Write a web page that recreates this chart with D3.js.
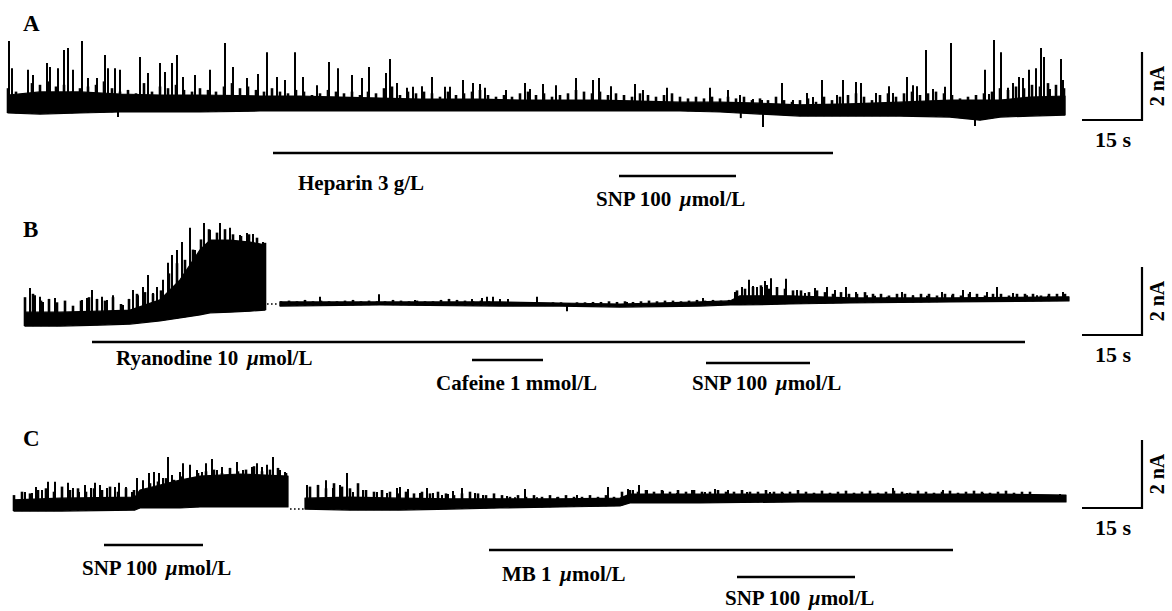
<!DOCTYPE html>
<html>
<head>
<meta charset="utf-8">
<script src="https://cdn.jsdelivr.net/npm/d3@7"></script>
<style>
  body { margin: 0; background: #fff; }
  svg text { font-family: "Liberation Serif", "Times New Roman", serif; font-weight: bold; fill: #000; }
</style>
</head>
<body>
<svg id="fig" width="1172" height="611"></svg>
<script>
// ── Data (time in s, current in nA) ────────────────────────────────────────
// dense noise band of each trace: [t, low, high]; null row = recording gap
const bandA = [
    [0, -0.03, 0.50], [8, -0.06, 0.59], [18, -0.03, 0.59], [28, 0, 0.53], [38, 0, 0.50],
    [48, 0, 0.50], [63, 0.03, 0.47], [73, 0.03, 0.47], [83, 0.03, 0.44], [93, 0.03, 0.41],
    [103, 0.03, 0.38], [118, 0.03, 0.38], [128, 0.03, 0.35], [138, 0.03, 0.35], [148, 0.03, 0.35],
    [158, 0.03, 0.32], [168, 0.03, 0.29], [178, 0, 0.29], [188, -0.06, 0.26], [198, -0.12, 0.21],
    [210.5, -0.12, 0.24], [223, -0.12, 0.29], [235.5, -0.15, 0.35], [243, -0.24, 0.35],
    [248, -0.15, 0.35], [255.5, -0.12, 0.44], [264.25, -0.09, 0.47],
];
// ragged top of the small openings, one reading every 2 s (null = gap)
const envA = [
    0.7, 0.6, 0.55, 0.85, 0.8, 0.9, 0.75, 0.8, 0.6, 0.7, 0.75, 0.8, 0.9, 0.7, 0.6, 0.65, 0.55, 0.85,
    0.6, 0.75, 0.7, 0.8, 0.65, 0.6, 0.7, 0.65, 0.6, 0.75, 0.85, 0.7, 0.75, 0.65, 0.6, 0.7, 0.6, 0.55,
    0.65, 0.6, 0.5, 0.55, 0.65, 0.6, 0.55, 0.6, 0.5, 0.6, 0.55, 0.7, 0.75, 0.5, 0.6, 0.55, 0.6, 0.55,
    0.45, 0.6, 0.5, 0.55, 0.6, 0.65, 0.5, 0.45, 0.5, 0.45, 0.55, 0.6, 0.5, 0.55, 0.45, 0.5, 0.55, 0.65,
    0.6, 0.55, 0.6, 0.5, 0.55, 0.5, 0.45, 0.55, 0.5, 0.45, 0.5, 0.55, 0.45, 0.4, 0.45, 0.4, 0.45, 0.4,
    0.45, 0.4, 0.45, 0.35, 0.4, 0.35, 0.45, 0.35, 0.3, 0.35, 0.4, 0.3, 0.45, 0.35, 0.45, 0.5, 0.55,
    0.45, 0.35, 0.5, 0.55, 0.45, 0.55, 0.6, 0.5, 0.55, 0.6, 0.55, 0.5, 0.4, 0.45, 0.5, 0.55, 0.6, 0.7,
    0.65, 0.75, 0.7, 0.8, 0.75, 0.85, 0.8, 0.7,
];
const spikesA = [
    [0.25, 2.09], [1, 1.29], [5, 1.24], [6.25, 1.09], [9.75, 1.44], [10.5, 1.32], [12.5, 1.29],
    [14, 1.82], [15, 1.88], [16.25, 1.24], [18.5, 2.09], [20, 1.0], [22.25, 1.0], [24.25, 1.68],
    [25, 1.29], [26.75, 1.29], [27.5, -0.15], [28, 1.24], [33, 1.62], [35, 1.15], [38, 1.44],
    [39.25, 1.18], [41, 1.44], [42.25, 1.68], [43.75, 1.03], [46.75, 1.09], [50.5, 1.24],
    [54.25, 2.03], [56.25, 1.32], [59.75, 1.0], [62.5, 1.12], [64.75, 1.76], [67.25, 1.03],
    [69.25, 0.94], [71.75, 1.76], [73.75, 1.03], [77.25, 0.79], [80.25, 1.47], [82.5, 1.29],
    [86, 1.09], [88.5, 1.0], [90.25, 1.32], [94.5, 1.15], [95.5, 1.56], [97.25, 0.85],
    [99.75, 0.71], [101.25, 0.74], [103.5, 0.76], [106, 1.03], [109.25, 0.74], [110.5, 0.74],
    [113.75, 0.94], [116.25, 0.85], [118, 0.82], [119.25, 0.71], [124.5, 0.65], [129.25, 0.85],
    [130.5, 0.68], [133.75, 0.82], [137, 0.79], [142, 1.0], [146.25, 0.94], [147.75, 1.0],
    [150.75, 0.76], [156.75, 0.82], [158.75, 0.65], [164.75, 0.71], [175.5, 0.71], [180, 0.65],
    [183, 0.5], [183.2, -0.18], [186.25, 0.38], [188.5, 0.35], [188.75, -0.44], [193.5, 0.85],
    [196.25, 0.35], [199.75, 0.56], [201.25, 0.44], [203.5, 0.94], [207.25, 0.5], [208.75, 0.94],
    [212, 0.88], [213.25, 0.85], [217, 0.56], [220.25, 0.76], [221.25, 0.56], [224.75, 1.03],
    [226.25, 0.79], [227.25, 0.76], [229.5, 1.82], [231.25, 0.68], [234.25, 0.74], [235.75, 2.03],
    [240, 0.44], [241.75, -0.41], [244.25, 1.24], [245.25, 0.53], [246.5, 2.12], [248.25, 1.76],
    [250, 0.71], [251.25, 0.85], [252.75, 1.03], [253.75, 1.0], [255.25, 1.24], [257, 1.29],
    [258.25, 1.88], [259, 1.62], [260.5, 0.68], [263.25, 1.56], [263.75, 0.94],
];

const bandB = [
    [0, -0.65, -0.24], [8.75, -0.65, -0.24], [18.75, -0.62, -0.21], [26.25, -0.59, -0.18],
    [33.75, -0.50, 0.12], [38.75, -0.41, 0.71], [43.75, -0.32, 1.59], [46.25, -0.26, 1.88],
    [51.25, -0.24, 1.88], [56.25, -0.21, 1.82], [60, -0.18, 1.74],
    [61, null, null],
    [63.75, -0.06, 0.06], [88.75, -0.03, 0.06], [118.75, -0.06, 0.06], [133.75, -0.06, 0.03],
    [148.75, -0.09, 0], [168.75, -0.06, 0.06], [176.25, -0.03, 0.09], [178.75, -0.03, 0.24],
    [191.25, 0, 0.24], [206.25, 0.03, 0.18], [231.25, 0.06, 0.18], [261, 0.09, 0.21],
];
const envB = [
    0.2, 0.3, 0.1, 0.15, 0.05, 0.1, -0.05, 0.1, 0.2, 0.15, 0.1, 0.2, 0.0, 0.15, 0.3, 0.35, 0.3, 0.4,
    0.9, 1.2, 1.3, 1.6, 1.9, 2.2, 2.1, 2.2, 2.05, 2.0, 2.05, 1.95, 1.8,
    null,
    0.08, 0.1, 0.08, 0.12, 0.08, 0.1, 0.08, 0.08, 0.1, 0.12, 0.08, 0.1, 0.08, 0.08, 0.12, 0.1, 0.08,
    0.1, 0.08, 0.08, 0.12, 0.15, 0.12, 0.1, 0.08, 0.1, 0.08, 0.05, 0.05, 0.03, 0.03, 0.05, 0.03, 0.03,
    0.05, 0.05, 0.03, 0.05, 0.05, 0.06, 0.06, 0.08, 0.06, 0.08, 0.06, 0.08, 0.1, 0.08, 0.1, 0.1, 0.08,
    0.1, 0.12, 0.1, 0.12, 0.1, 0.12,
    0.4, 0.45, 0.5, 0.55, 0.45, 0.5, 0.45, 0.4, 0.4, 0.35, 0.4, 0.35, 0.3, 0.35, 0.3, 0.3, 0.35, 0.3,
    0.3, 0.25, 0.3, 0.3, 0.25, 0.3, 0.3, 0.25, 0.3, 0.3, 0.25, 0.3, 0.3, 0.25, 0.3, 0.3, 0.25, 0.3,
    0.3, 0.3, 0.25, 0.3, 0.3, 0.3,
];
const spikesB = [
    [1.25, 0.47], [2.5, 0.26], [3.75, 0.21], [4.5, 0.06], [7.5, 0.18], [10, 0.06], [14.25, 0.12],
    [15.5, 0.18], [16.75, 0.41], [18, 0.12], [19.25, 0.21], [20.5, 0.12], [22, 0.26], [24.5, -0.03],
    [27, 0.41], [28.25, 0.26], [29.5, 0.5], [30.75, 0.85], [32, 0.32], [33, 0.5], [34.5, 0.71],
    [35.75, 1.21], [36.75, 1.44], [38, 1.59], [39.25, 1.82], [40, 1.24], [41.25, 2.24], [42.5, 1.59],
    [44.75, 2.38], [46.25, 2.18], [48.75, 2.38], [51.25, 2.24], [53.75, 2.03], [55.5, 2.09],
    [57, 2.06], [59.5, 1.82],
    [73.75, 0.21], [88.5, 0.29], [97.5, 0.12], [111.75, 0.15], [114.25, 0.18], [115.5, 0.21],
    [117, 0.21], [118.75, 0.15], [120.75, 0.15], [128, 0.21], [135.5, -0.21], [150.5, 0.06],
    [169.5, 0.18], [177.5, 0.35], [179.25, 0.5], [181, 0.71], [182, 0.53], [183, 0.5],
    [184.25, 0.5], [185, 0.68], [185.5, 0.56], [186.5, 0.76], [188, 0.47], [190.25, 0.74],
    [193, 0.41], [195, 0.32], [197.5, 0.47], [200.5, 0.5], [202.5, 0.41], [205.25, 0.5],
    [207.75, 0.35], [210.5, 0.26], [212.5, 0.24], [215.5, 0.21], [219.25, 0.35], [222, 0.26],
    [225.5, 0.24], [229.25, 0.35], [231.75, 0.26], [234.5, 0.41], [236.25, 0.35], [240.5, 0.35],
    [243, 0.5], [247, 0.32], [250.5, 0.26], [253, 0.26], [255.75, 0.24], [259.5, 0.35],
];

const bandC = [
    [0, -0.12, 0.21], [11.5, -0.12, 0.26], [30.25, -0.09, 0.29], [31.5, -0.03, 0.5],
    [41.5, -0.03, 0.79], [46.5, 0, 0.91], [56.5, 0, 0.97], [68.5, 0, 0.91],
    [70, null, null],
    [72.75, -0.06, 0.26], [84, -0.09, 0.29], [96.5, -0.09, 0.26], [109, -0.06, 0.24],
    [121.5, -0.03, 0.24], [136.5, 0, 0.24], [151.5, 0.03, 0.26], [154, 0.12, 0.38],
    [171.5, 0.12, 0.38], [196.5, 0.15, 0.38], [221.5, 0.15, 0.38], [246.5, 0.15, 0.38],
    [263, 0.15, 0.35],
];
const envC = [
    0.35, 0.45, 0.4, 0.5, 0.55, 0.45, 0.6, 0.5, 0.55, 0.45, 0.55, 0.5, 0.6, 0.45, 0.55, 0.5, 0.4,
    0.7, 0.75, 0.85, 0.8, 0.9, 0.85, 1.0, 1.05, 1.1, 1.0, 1.15, 1.05, 1.1, 1.2, 1.05, 1.1, 1.15, 1.0,
    null, null,
    0.6, 0.65, 0.55, 0.7, 0.6, 0.55, 0.7, 0.5, 0.45, 0.5, 0.45, 0.4, 0.45, 0.4, 0.45, 0.4, 0.45, 0.4,
    0.35, 0.4, 0.45, 0.4, 0.35, 0.4, 0.35, 0.3, 0.35, 0.3, 0.35, 0.3, 0.35, 0.3, 0.35, 0.3, 0.3, 0.35,
    0.3, 0.35, 0.3, 0.45, 0.5, 0.45, 0.5, 0.45, 0.5, 0.45, 0.5, 0.45, 0.5, 0.45, 0.45, 0.5, 0.45,
    0.45, 0.5, 0.45, 0.45, 0.5, 0.45, 0.45, 0.45, 0.5, 0.45, 0.42, 0.48, 0.42, 0.45, 0.48, 0.42,
    0.45, 0.48, 0.42, 0.45, 0.48, 0.45, 0.42, 0.48, 0.45, 0.42, 0.45, 0.48, 0.42, 0.45, 0.48, 0.45,
    0.42, 0.45, 0.48, 0.42, 0.45, 0.45,
];
const spikesC = [
    [2.75, 0.44], [4.5, 0.41], [5.5, 0.59], [7, 0.5], [8.5, 0.74], [10.25, 0.74], [12, 0.56],
    [13.5, 0.71], [14.75, 0.56], [16.25, 0.44], [17.75, 0.65], [19.25, 0.56], [20.25, 0.71],
    [21.5, 0.65], [23.25, 0.56], [25.25, 0.59], [26.25, 0.71], [28, 0.59], [29.5, 0.44],
    [30.75, 0.85], [32.25, 0.79], [33.75, 1.0], [35, 1.03], [36.25, 1.0], [37.25, 0.85],
    [38.5, 1.47], [39.5, 0.94], [41.5, 1.03], [42.25, 1.29], [44, 1.24], [45.75, 1.09], [47, 1.03],
    [48, 1.29], [49.5, 1.41], [50.75, 1.09], [52, 1.18], [54, 1.03], [55.75, 1.32], [57.25, 1.09],
    [59.5, 1.18], [60.75, 1.29], [62, 1.18], [63.25, 1.24], [64.75, 1.47], [66.5, 1.09], [67.75, 1.03],
    [73.25, 0.65], [76, 0.59], [78, 0.79], [79.75, 0.56], [81.5, 0.65], [83.25, 1.0], [84.75, 0.44],
    [87.25, 0.5], [90.75, 0.44], [93.25, 0.41], [95.75, 0.56], [96.5, 0.59], [98.5, 0.53],
    [101.5, 0.41], [103.25, 0.56], [104.75, 0.41], [107, 0.35], [108.5, 0.38], [109.75, 0.47],
    [112, 0.56], [115.25, 0.41], [117.25, 0.35], [120.25, 0.26], [123.25, 0.32], [125.25, 0.29],
    [127.75, 0.53], [130.75, 0.29], [135.75, 0.29], [140.75, 0.35], [144, 0.26], [148.5, 0.59],
    [153.5, 0.53], [154.75, 0.5], [156.25, 0.65], [158.25, 0.5], [162.25, 0.47], [165.75, 0.41],
    [169.5, 0.5], [172.75, 0.44], [175.25, 0.53], [178.5, 0.5], [183.25, 0.44], [186, 0.41],
    [189, 0.44], [192.25, 0.41], [207.25, 0.38], [219.75, 0.56], [223.25, 0.41], [232.25, 0.5],
    [242.25, 0.41], [253.25, 0.38], [261.5, 0.38],
];
const ENV_STEP = 2; // s between envelope readings

// dotted recording gaps: [t start, t end, level nA]
const gapsB = [[60.5, 63.5, 0]];
const gapsC = [[69, 72.5, -0.06]];

// drug application bars: [label, t start, t end]
const treatA = [["Heparin 3 g/L", 66.25, 206.25], ["SNP 100 µmol/L", 152.75, 182]];
const treatB = [["Ryanodine 10 µmol/L", 16.75, 250], ["Cafeine 1 mmol/L", 111.75, 129.5], ["SNP 100 µmol/L", 170.25, 196.25]];
const treatC = [["SNP 100 µmol/L", 22.5, 47.25], ["MB 1 µmol/L", 118.75, 234.75], ["SNP 100 µmol/L", 180.75, 210.25]];

const SCALE_T = 15;   // s
const SCALE_I = 2;    // nA

// ── Layout ─────────────────────────────────────────────────────────────────
const PX_PER_S = 4, PX_PER_NA = 34;
const panels = [
    { name: "A", x0: 8, zero: 112, band: bandA, env: envA, spikes: spikesA, gaps: [], treat: treatA,
      labelPos: [23, 31], corner: 120,
      barY: [153, 176], textPos: [[298, 190], [596, 206]] },
    { name: "B", x0: 25, zero: 304, band: bandB, env: envB, spikes: spikesB, gaps: gapsB, treat: treatB,
      labelPos: [23, 237], corner: 335,
      barY: [342, 360, 363], textPos: [[116, 365], [436, 390], [692, 390]] },
    { name: "C", x0: 14, zero: 507, band: bandC, env: envC, spikes: spikesC, gaps: gapsC, treat: treatC,
      labelPos: [23, 446], corner: 508,
      barY: [545, 550, 577], textPos: [[82, 575], [502, 581], [725, 605]] },
];
const SB_X = 1142;

const svg = d3.select("#fig");

function addLabel(sel, text) {
    // µ set in italic like the original Symbol glyph
    const parts = text.split("µ");
    sel.append("tspan").text(parts[0]);
    if (parts.length > 1) {
        sel.append("tspan").attr("font-style", "italic").attr("dx", 3).text("µ");
        sel.append("tspan").text(parts[1]);
    }
}

panels.forEach(p => {
    const x = d3.scaleLinear().domain([0, SCALE_T]).range([p.x0, p.x0 + SCALE_T * PX_PER_S]);
    const y = d3.scaleLinear().domain([0, SCALE_I]).range([p.zero, p.zero - SCALE_I * PX_PER_NA]);
    const g = svg.append("g").attr("class", "panel-" + p.name);

    // panel letter
    g.append("text").attr("x", p.labelPos[0]).attr("y", p.labelPos[1])
        .attr("font-size", 23).text(p.name);

    // band interpolation helpers
    const rows = p.band.filter(d => d[1] !== null);
    const bis = d3.bisector(d => d[0]).left;
    const bandAt = t => {
        const i = bis(rows, t);
        if (i <= 0) return rows[0];
        if (i >= rows.length) return rows[rows.length - 1];
        const a = rows[i - 1], b = rows[i], k = (t - a[0]) / (b[0] - a[0]);
        return [t, a[1] + (b[1] - a[1]) * k, a[2] + (b[2] - a[2]) * k];
    };
    const tEnd = rows[rows.length - 1][0];

    // noise band
    const area = d3.area()
        .defined(d => d[1] !== null)
        .x(d => x(d[0])).y0(d => y(d[1])).y1(d => y(d[2]));
    g.append("path").datum(p.band)
        .attr("d", area).attr("fill", "#000")
        .attr("stroke", "#000").attr("stroke-width", 1.2).attr("stroke-linejoin", "round");

    // ragged envelope of small openings
    const env = p.env.map((v, i) => [i * ENV_STEP, v]).filter(d => d[1] !== null && d[0] <= tEnd);
    g.selectAll("line.env").data(env).join("line")
        .attr("class", "env")
        .attr("x1", d => x(d[0])).attr("x2", d => x(d[0]))
        .attr("y1", d => y(bandAt(d[0])[1])).attr("y2", d => y(d[1]))
        .attr("stroke", "#000").attr("stroke-width", 2.6);

    // spikes, rising from the middle of the band
    g.selectAll("line.spike").data(p.spikes).join("line")
        .attr("class", "spike")
        .attr("x1", d => x(d[0])).attr("x2", d => x(d[0]))
        .attr("y1", d => { const b = bandAt(d[0]); return y((b[1] + b[2]) / 2); })
        .attr("y2", d => y(d[1]))
        .attr("stroke", "#000").attr("stroke-width", 2);

    // dotted gaps
    g.selectAll("line.gap").data(p.gaps).join("line")
        .attr("class", "gap")
        .attr("x1", d => x(d[0])).attr("x2", d => x(d[1]))
        .attr("y1", d => y(d[2])).attr("y2", d => y(d[2]))
        .attr("stroke", "#000").attr("stroke-width", 1.6).attr("stroke-dasharray", "1.6,2.4");

    // drug bars + labels
    p.treat.forEach((d, i) => {
        g.append("line")
            .attr("x1", x(d[1])).attr("x2", x(d[2]))
            .attr("y1", p.barY[i]).attr("y2", p.barY[i])
            .attr("stroke", "#000").attr("stroke-width", 2.4);
        const t = g.append("text")
            .attr("x", p.textPos[i][0]).attr("y", p.textPos[i][1])
            .attr("font-size", 21);
        addLabel(t, d[0]);
    });

    // scale bars
    const sbW = x(SCALE_T) - x(0), sbH = y(0) - y(SCALE_I);
    g.append("path")
        .attr("d", `M${SB_X - sbW},${p.corner}H${SB_X}V${p.corner - sbH}`)
        .attr("fill", "none").attr("stroke", "#000").attr("stroke-width", 2.2);
    g.append("text").attr("x", SB_X - sbW / 2 + 1).attr("y", p.corner + 27)
        .attr("text-anchor", "middle").attr("font-size", 22).text(`${SCALE_T} s`);
    g.append("text")
        .attr("transform", `translate(${SB_X + 22},${p.corner - sbH / 2}) rotate(-90)`)
        .attr("text-anchor", "middle").attr("font-size", 20).text(`${SCALE_I} nA`);
});
</script>
</body>
</html>
